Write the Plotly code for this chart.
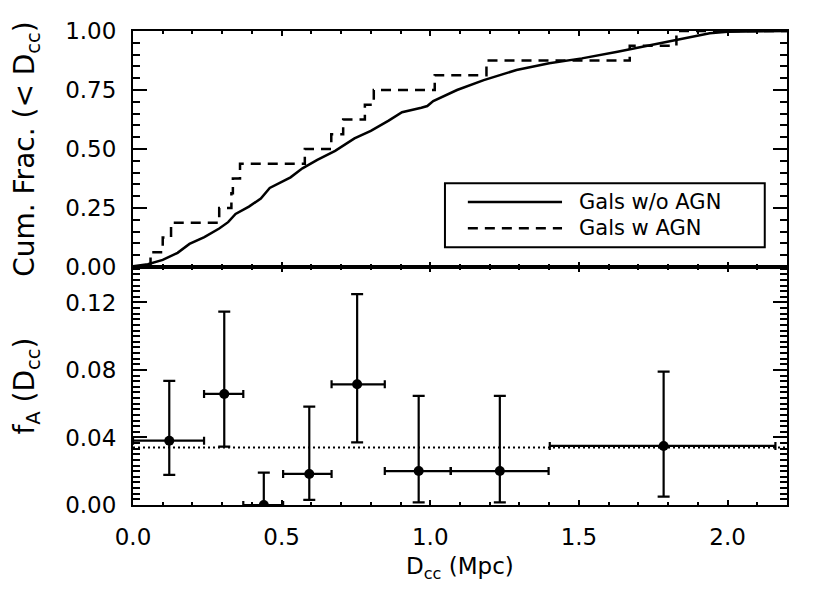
import plotly.graph_objects as go
from plotly.subplots import make_subplots

# Top panel: cumulative fraction vs D_cc
# galaxies without AGN
dcc_noagn = [0.00, 0.05, 0.10, 0.15, 0.19, 0.24, 0.29, 0.32, 0.345, 0.39, 0.43, 0.46,
             0.53, 0.57, 0.62, 0.68, 0.745, 0.80, 0.86, 0.905, 0.97, 0.99, 1.01, 1.03,
             1.09, 1.18, 1.29, 1.40, 1.51, 1.63, 1.74, 1.85, 1.94, 2.00, 2.20]
cum_noagn = [0.003, 0.012, 0.030, 0.060, 0.098, 0.127, 0.163, 0.190, 0.225, 0.256, 0.290, 0.335,
             0.380, 0.418, 0.454, 0.492, 0.545, 0.577, 0.620, 0.656, 0.675, 0.682, 0.703, 0.715,
             0.750, 0.792, 0.835, 0.863, 0.884, 0.912, 0.940, 0.968, 0.990, 0.997, 1.000]

# galaxies with AGN (step positions of the dashed curve)
dcc_agn = [0.0, 0.059, 0.100, 0.128, 0.290, 0.331, 0.336, 0.360, 0.578, 0.667, 0.707,
           0.780, 0.810, 1.015, 1.189, 1.671, 1.828, 2.2]
cum_agn = [0.0, 0.0625, 0.125, 0.1875, 0.25, 0.3125, 0.375, 0.4375, 0.5, 0.5625, 0.625,
           0.6875, 0.75, 0.8125, 0.875, 0.9375, 1.0, 1.0]

# Bottom panel: AGN fraction per D_cc bin
fa_x = [0.122, 0.307, 0.440, 0.593, 0.754, 0.961, 1.234, 1.785]
fa_y = [0.0381, 0.0658, 0.0, 0.0184, 0.0715, 0.0201, 0.0201, 0.0350]
fa_err_hi = [0.0354, 0.0488, 0.0192, 0.0399, 0.0534, 0.0445, 0.0445, 0.0440]
fa_err_lo = [0.0203, 0.0312, 0.0100, 0.0154, 0.0344, 0.0186, 0.0186, 0.0301]
bin_lo = [0.0, 0.239, 0.371, 0.505, 0.668, 0.847, 1.069, 1.402]
bin_hi = [0.239, 0.371, 0.505, 0.668, 0.847, 1.069, 1.398, 2.161]
fa_all = 0.034

x_range = [0.0, 2.2]
fnt = "DejaVu Sans"

fig = make_subplots(rows=2, cols=1, shared_xaxes=True, vertical_spacing=0)

fig.add_trace(go.Scatter(x=dcc_noagn, y=cum_noagn, mode="lines",
                         line=dict(color="black", width=2.5),
                         name="Gals w/o AGN", showlegend=False), row=1, col=1)
fig.add_trace(go.Scatter(x=dcc_agn, y=cum_agn, mode="lines", line_shape="hv",
                         line=dict(color="black", width=2.5, dash="10px,7px"),
                         name="Gals w AGN", showlegend=False), row=1, col=1)

# overall fraction (dotted)
fig.add_trace(go.Scatter(x=x_range, y=[fa_all, fa_all], mode="lines",
                         line=dict(color="black", width=2, dash="2px,3px"),
                         showlegend=False), row=2, col=1)

err_xp = [h - c for h, c in zip(bin_hi, fa_x)]
err_xm = [c - l for c, l in zip(fa_x, bin_lo)]
fig.add_trace(go.Scatter(
    x=fa_x, y=fa_y, mode="markers",
    marker=dict(color="black", size=10),
    error_y=dict(type="data", array=fa_err_hi, arrayminus=fa_err_lo,
                 color="black", thickness=2.2, width=6),
    error_x=dict(type="data", array=err_xp, arrayminus=err_xm,
                 color="black", thickness=2.2, width=4),
    showlegend=False), row=2, col=1)

axis_common = dict(showline=True, linecolor="black", linewidth=2, mirror="ticks",
                   ticks="inside", tickcolor="black", tickwidth=2,
                   showgrid=False, zeroline=False, automargin=False)

fig.update_xaxes(**axis_common, range=x_range, dtick=0.5, tick0=0, ticklen=5,
                 minor=dict(dtick=0.1, ticklen=3, ticks="inside", tickcolor="black", tickwidth=2))
fig.update_xaxes(showticklabels=False, row=1, col=1)
fig.update_xaxes(tickformat=".1f", ticklabelstandoff=10, row=2, col=1)

fig.update_yaxes(**axis_common, ticklen=14, ticklabelstandoff=10)
fig.update_yaxes(range=[0, 1], dtick=0.25, tick0=0, tickformat=".2f",
                 minor=dict(dtick=0.05, ticklen=7, ticks="inside", tickcolor="black", tickwidth=2),
                 title=dict(text="Cum. Frac. (< D<sub>cc</sub>)", standoff=22),
                 domain=[0.5021, 1.0], row=1, col=1)
fig.update_yaxes(range=[0, 0.141], dtick=0.04, tick0=0, tickformat=".2f",
                 minor=dict(dtick=0.04 / 12, tick0=0, ticklen=7, ticks="inside",
                            tickcolor="black", tickwidth=2),
                 title=dict(text="f<sub>A</sub> (D<sub>cc</sub>)", standoff=22),
                 domain=[0.0, 0.5021], row=2, col=1)

# x title placed by hand (axis standoff is ignored without automargin)
fig.add_annotation(text="D<sub>cc</sub> (Mpc)", xref="paper", yref="paper", x=0.5, y=0,
                   yshift=-63, xanchor="center", yanchor="middle", showarrow=False,
                   font=dict(family=fnt, size=23, color="black"))

# legend box drawn by hand to get the long line samples
fig.add_shape(type="rect", xref="paper", yref="paper", x0=0.477, x1=0.966, y0=0.544, y1=0.679,
              line=dict(color="black", width=2), fillcolor="white", layer="above")
fig.add_shape(type="line", xref="paper", yref="paper", x0=0.512, x1=0.656, y0=0.639, y1=0.639,
              line=dict(color="black", width=2.5), layer="above")
fig.add_shape(type="line", xref="paper", yref="paper", x0=0.512, x1=0.656, y0=0.584, y1=0.584,
              line=dict(color="black", width=2.5, dash="10px,7px"), layer="above")
fig.add_annotation(text="Gals w/o AGN", xref="paper", yref="paper", x=0.679, y=0.639,
                   xanchor="left", yanchor="middle", showarrow=False,
                   font=dict(family=fnt, size=21, color="black"))
fig.add_annotation(text="Gals w AGN", xref="paper", yref="paper", x=0.679, y=0.584,
                   xanchor="left", yanchor="middle", showarrow=False,
                   font=dict(family=fnt, size=21, color="black"))

# the page body adds an 8px margin, so the figure is made smaller to fit the window
fig.update_layout(
    width=814, height=578,
    margin=dict(l=125, r=35, t=23, b=81),
    paper_bgcolor="white", plot_bgcolor="white",
    font=dict(family=fnt, size=23, color="black"),
    showlegend=False,
)

fig.write_html("out.html")
